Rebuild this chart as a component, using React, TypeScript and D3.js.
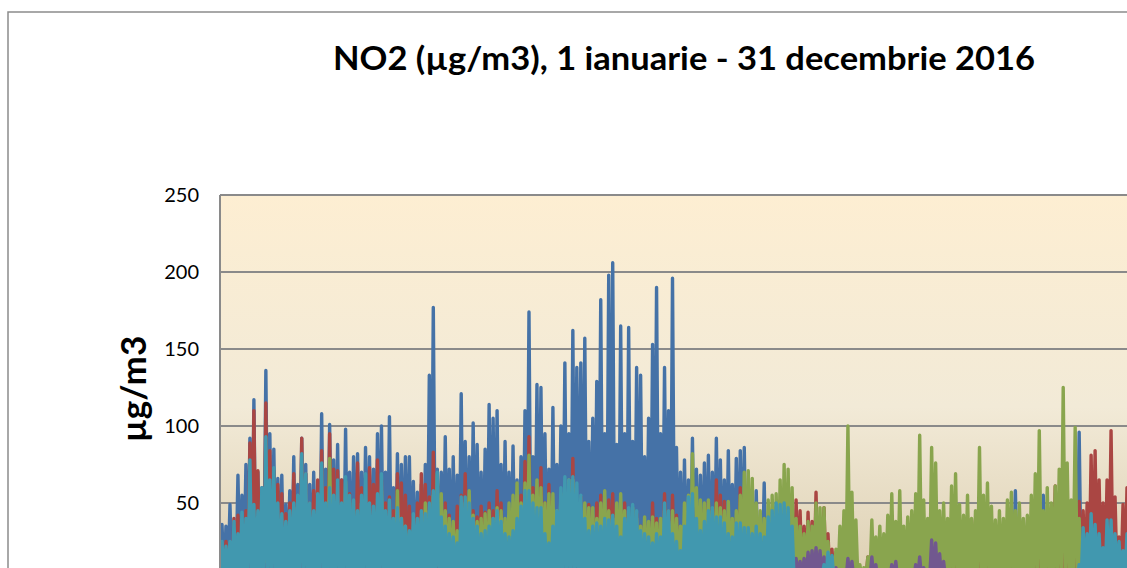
import React, { useEffect, useRef } from 'react'
import * as d3 from 'd3'

const title = 'NO2 (µg/m3), 1 ianuarie - 31 decembrie 2016'
const yLabel = 'µg/m3'
const yTicks = [50, 100, 150, 200, 250]

// peak readings of each station, left to right
const blue = [
  36, 35, 49, 34, 68, 55, 75, 92, 117, 70,
  60, 136, 95, 85, 66, 68, 49, 58, 80, 62,
  92, 75, 62, 70, 58, 108, 72, 101, 78, 88,
  65, 98, 70, 80, 82, 70, 86, 80, 72, 95,
  100, 70, 106, 60, 82, 75, 80, 80, 64, 57,
  62, 75, 133, 177, 72, 70, 93, 72, 80, 68,
  121, 90, 80, 102, 88, 70, 85, 114, 105, 110,
  75, 90, 70, 87, 65, 80, 110, 174, 80, 127,
  125, 95, 72, 112, 75, 100, 141, 95, 162, 138,
  141, 157, 90, 105, 129, 182, 95, 198, 206, 88,
  165, 95, 164, 90, 138, 133, 80, 105, 153, 190,
  95, 138, 110, 196, 86, 70, 78, 65, 92, 72,
  68, 76, 81, 70, 92, 78, 65, 84, 62, 79,
  84, 86, 50, 45, 58, 40, 63, 30, 25, 20,
  15, 12, 14, 10, 12, 15, 10, 12, 14, 11,
  12, 10, 13, 8, 10, 12, 9, 11, 10, 6,
  5, 6, 10, 9, 12, 8, 10, 11, 9, 12,
  10, 8, 12, 9, 11, 10, 8, 12, 10, 9,
  12, 10, 8, 11, 9, 12, 10, 8, 13, 10,
  12, 9, 11, 10, 8, 12, 10, 11, 14, 58,
  20, 39, 15, 20, 12, 18, 55, 20, 15, 25,
  18, 30, 22, 25, 35, 96, 42, 20, 18, 15,
  20, 18, 15, 20, 16, 18, 15, 18,
]
const red = [
  22, 25, 20, 40, 42, 30, 45, 89, 110, 71,
  35, 115, 84, 71, 62, 56, 43, 50, 69, 45,
  92, 69, 50, 58, 65, 84, 60, 95, 72, 71,
  65, 52, 56, 48, 76, 60, 55, 73, 62, 78,
  65, 50, 54, 45, 69, 63, 55, 48, 41, 50,
  69, 62, 54, 83, 60, 45, 50, 42, 35, 48,
  55, 69, 50, 45, 41, 48, 44, 50, 45, 58,
  50, 35, 42, 37, 48, 55, 77, 93, 60, 55,
  73, 50, 62, 45, 35, 48, 55, 60, 79, 50,
  54, 45, 49, 40, 50, 55, 42, 52, 56, 45,
  45, 50, 29, 38, 43, 35, 37, 30, 50, 40,
  37, 56, 45, 55, 42, 30, 19, 25, 35, 30,
  40, 47, 51, 45, 65, 55, 51, 42, 38, 40,
  60, 55, 35, 30, 28, 25, 30, 22, 20, 25,
  30, 28, 22, 30, 52, 45, 35, 44, 38, 57,
  35, 47, 30, 20, 18, 15, 12, 15, 10, 6,
  5, 6, 15, 12, 10, 14, 12, 15, 18, 12,
  15, 10, 18, 14, 12, 22, 15, 18, 25, 18,
  20, 15, 22, 18, 21, 25, 18, 30, 39, 28,
  35, 37, 25, 35, 28, 22, 30, 32, 28, 25,
  28, 26, 30, 38, 28, 22, 30, 25, 35, 61,
  30, 25, 35, 28, 30, 51, 45, 50, 81, 84,
  65, 50, 65, 97, 54, 28, 49, 60,
]
const green = [
  18, 12, 15, 19, 22, 25, 30, 35, 40, 30,
  40, 50, 45, 40, 27, 30, 28, 35, 47, 38,
  50, 35, 30, 40, 45, 50, 40, 79, 45, 42,
  45, 64, 50, 45, 40, 50, 45, 40, 38, 45,
  58, 40, 39, 35, 58, 40, 35, 30, 32, 30,
  40, 50, 45, 55, 69, 56, 45, 40, 38, 32,
  45, 50, 58, 42, 38, 40, 43, 45, 40, 47,
  45, 40, 50, 55, 63, 50, 63, 81, 55, 65,
  60, 50, 56, 56, 45, 56, 50, 65, 65, 50,
  45, 50, 47, 47, 40, 50, 58, 45, 40, 50,
  56, 45, 40, 47, 40, 35, 41, 38, 41, 37,
  40, 45, 38, 45, 40, 35, 50, 55, 82, 60,
  52, 50, 52, 45, 50, 47, 45, 51, 40, 45,
  55, 70, 71, 66, 50, 45, 40, 52, 55, 56,
  65, 75, 72, 60, 40, 35, 30, 38, 35, 50,
  47, 47, 25, 15, 20, 35, 45, 100, 57, 39,
  10, 8, 15, 39, 28, 35, 30, 42, 56, 38,
  58, 35, 41, 45, 56, 94, 52, 40, 86, 76,
  45, 50, 40, 61, 69, 49, 42, 55, 40, 45,
  86, 55, 63, 48, 39, 45, 40, 52, 57, 45,
  50, 40, 42, 55, 69, 97, 45, 60, 50, 61,
  72, 125, 76, 52, 99, 40, 20, 15, 25, 15,
  20, 18, 25, 15, 20, 18, 15, 20,
]
const purple = [
  8, 6, 10, 7, 9, 8, 6, 10, 8, 7,
  9, 10, 8, 12, 9, 7, 10, 8, 11, 9,
  10, 8, 12, 9, 7, 10, 8, 9, 11, 8,
  10, 9, 7, 12, 8, 10, 9, 11, 8, 10,
  9, 7, 10, 8, 12, 9, 10, 8, 7, 9,
  10, 8, 9, 11, 8, 7, 10, 9, 12, 8,
  9, 10, 8, 7, 11, 9, 10, 8, 9, 10,
  8, 9, 11, 7, 10, 8, 9, 10, 8, 12,
  9, 8, 10, 12, 9, 7, 10, 8, 9, 11,
  8, 10, 9, 7, 11, 8, 10, 9, 8, 10,
  9, 11, 8, 10, 7, 9, 12, 8, 10, 9,
  8, 10, 9, 11, 8, 10, 12, 20, 47, 30,
  24, 26, 22, 19, 15, 12, 10, 8, 12, 9,
  10, 8, 10, 12, 10, 12, 8, 10, 9, 8,
  10, 12, 9, 10, 14, 12, 14, 18, 19, 21,
  19, 15, 10, 6, 8, 5, 6, 14, 12, 6,
  5, 4, 6, 15, 10, 6, 5, 4, 10, 12,
  6, 5, 4, 6, 10, 15, 8, 5, 26, 24,
  17, 12, 6, 5, 4, 6, 5, 4, 6, 5,
  4, 6, 5, 4, 5, 6, 4, 5, 6, 5,
  4, 5, 6, 4, 5, 6, 5, 4, 5, 6,
  4, 5, 6, 5, 4, 6, 8, 10, 9, 8,
  10, 9, 8, 10, 9, 8, 10, 9,
]
const cyan = [
  25, 22, 25, 38, 30, 44, 40, 78, 49, 45,
  60, 93, 65, 73, 50, 43, 38, 45, 50, 55,
  82, 69, 50, 45, 56, 76, 50, 60, 55, 65,
  50, 67, 55, 52, 45, 55, 69, 50, 48, 56,
  69, 45, 52, 40, 47, 40, 35, 32, 43, 40,
  45, 43, 50, 58, 70, 41, 35, 30, 28, 24,
  54, 54, 50, 40, 35, 30, 32, 35, 40, 45,
  38, 30, 28, 32, 40, 48, 58, 58, 50, 47,
  47, 30, 24, 35, 45, 60, 67, 65, 67, 63,
  55, 40, 32, 35, 37, 35, 40, 39, 42, 35,
  28, 40, 47, 49, 45, 32, 30, 28, 24, 30,
  28, 50, 45, 30, 25, 19, 35, 54, 56, 40,
  32, 38, 45, 47, 41, 41, 37, 30, 28, 37,
  37, 34, 34, 30, 35, 30, 28, 41, 45, 50,
  49, 50, 47, 35, 5, 6, 4, 5, 6, 5,
  6, 10, 18, 16, 5, 4, 5, 3, 4, 5,
  4, 3, 5, 4, 3, 5, 4, 3, 5, 4,
  3, 5, 4, 3, 5, 4, 3, 5, 4, 3,
  5, 4, 3, 5, 4, 3, 5, 4, 3, 5,
  4, 3, 5, 4, 3, 5, 4, 3, 5, 4,
  3, 5, 4, 3, 5, 4, 3, 5, 4, 3,
  5, 4, 3, 5, 5, 10, 34, 30, 43, 36,
  30, 21, 39, 39, 30, 25, 19, 30,
]

const stations = [blue, red, green, purple, cyan]
const colors = ['#4572A7', '#AA4643', '#89A54E', '#71588F', '#4198AF']

export default function App() {
  const ref = useRef<SVGSVGElement>(null)

  useEffect(() => {
    const svg = d3.select(ref.current)
    svg.selectAll('*').remove()

    const plotLeft = 220
    const plotTop = 195
    const x = d3.scaleLinear().domain([0, blue.length - 1]).range([222, 1127])
    const y = d3.scaleLinear().domain([0, 250]).range([580, plotTop])

    const defs = svg.append('defs')
    const grad = defs.append('linearGradient')
      .attr('id', 'bg').attr('x1', 0).attr('y1', 0).attr('x2', 0).attr('y2', 1)
    grad.append('stop').attr('offset', '0%').attr('stop-color', '#FDEED2')
    grad.append('stop').attr('offset', '55%').attr('stop-color', '#F2EAD7')
    grad.append('stop').attr('offset', '100%').attr('stop-color', '#DDD0B3')
    defs.append('clipPath').attr('id', 'plot')
      .append('rect').attr('x', plotLeft).attr('y', plotTop).attr('width', 1000).attr('height', 400)

    // chart frame (right and bottom edges are outside the picture)
    svg.append('path')
      .attr('d', 'M8,700V12H1300')
      .attr('fill', 'none').attr('stroke', '#8c8c8c').attr('stroke-width', 1.5)

    svg.append('text')
      .attr('x', 684).attr('y', 70)
      .attr('text-anchor', 'middle')
      .attr('textLength', 702)
      .attr('lengthAdjust', 'spacingAndGlyphs')
      .style('font-family', 'Lato, sans-serif')
      .style('font-weight', 'bold')
      .style('font-size', '32px')
      .text(title)

    svg.append('rect')
      .attr('x', plotLeft).attr('y', plotTop).attr('width', 1000).attr('height', y(0) - plotTop)
      .attr('fill', 'url(#bg)')

    svg.append('g').selectAll('line').data(yTicks).enter().append('line')
      .attr('x1', plotLeft).attr('x2', 1140)
      .attr('y1', d => y(d)).attr('y2', d => y(d))
      .attr('stroke', '#8a8a8a').attr('stroke-width', 2)

    svg.append('g').selectAll('text').data(yTicks).enter().append('text')
      .attr('x', 199).attr('y', d => y(d)).attr('dy', '0.36em')
      .attr('text-anchor', 'end')
      .style('font-family', 'Lato, sans-serif')
      .style('font-size', '20px')
      .text(d => d)

    svg.append('text')
      .attr('transform', 'translate(146,389) rotate(-90)')
      .attr('text-anchor', 'middle')
      .style('font-family', 'Lato, sans-serif')
      .style('font-weight', 'bold')
      .style('font-size', '35px')
      .text(yLabel)

    // each reading is drawn as a spike from the base, like the hourly trace
    const half = (x(1) - x(0)) / 2
    const line = d3.line<[number, number]>().x(d => d[0]).y(d => y(d[1]))
    const g = svg.append('g').attr('clip-path', 'url(#plot)')
    stations.forEach((vals, k) => {
      const pts: [number, number][] = [[x(0) - half, 0]]
      vals.forEach((v, i) => {
        pts.push([x(i), v])
        pts.push([x(i) + half, 0])
      })
      g.append('path')
        .datum(pts)
        .attr('d', line)
        .style('fill', 'none')
        .style('stroke', colors[k])
        .style('stroke-width', 3.4)
        .style('stroke-linejoin', 'round')
    })

    svg.append('line')
      .attr('x1', plotLeft).attr('x2', plotLeft)
      .attr('y1', plotTop).attr('y2', 600)
      .attr('stroke', '#8a8a8a').attr('stroke-width', 2)
  }, [])

  return (
    <>
      <style>{'html,body{margin:0;overflow:hidden}'}</style>
      <svg ref={ref} width={1127} height={568}
        style={{ position: 'absolute', left: 0, top: 0, display: 'block', overflow: 'hidden' }} />
    </>
  )
}
